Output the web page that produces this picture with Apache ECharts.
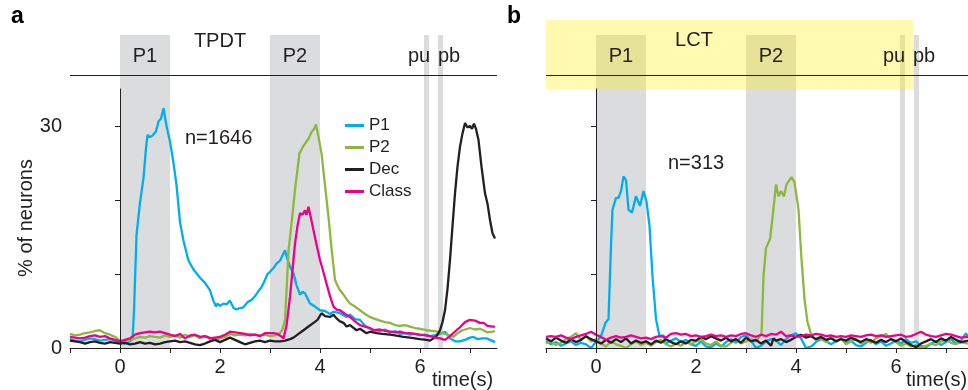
<!DOCTYPE html>
<html>
<head>
<meta charset="utf-8">
<script src="https://cdn.jsdelivr.net/npm/echarts@6/dist/echarts.min.js"></script>
<style>html,body{margin:0;padding:0;background:#fff}#chart{width:968px;height:390px}</style>
</head>
<body>
<div id="chart"></div>
<script>
// panel a (TPDT), [time s, % of neurons]
const tpdtP1 = [[-1,1.2],[-0.9,1.0],[-0.8,0.9],[-0.7,1.1],[-0.6,1.3],[-0.5,1.2],[-0.4,1.0],[-0.3,1.1],[-0.2,1.2],[-0.1,1.0],[0,0.8],[0.1,0.6],[0.2,0.9],[0.25,1.2],[0.28,5],[0.33,15.3],[0.4,19.6],[0.47,23],[0.52,27],[0.55,28.8],[0.6,28.5],[0.65,28.7],[0.72,29.3],[0.77,30.6],[0.82,31],[0.87,32.4],[0.93,30],[1.0,27.9],[1.07,25],[1.13,22],[1.2,17],[1.27,14.5],[1.37,11.8],[1.47,10.6],[1.6,9.5],[1.7,8.8],[1.8,7.8],[1.86,6.5],[1.92,5.6],[1.95,6.0],[2.0,5.7],[2.07,6.0],[2.13,5.9],[2.2,6.4],[2.27,5.4],[2.33,5.2],[2.4,5.4],[2.47,5.5],[2.55,6.2],[2.63,6.5],[2.7,7.0],[2.77,7.7],[2.83,8.2],[2.9,9.2],[2.95,10],[3.0,10.3],[3.07,10.8],[3.13,11.4],[3.2,11.8],[3.3,13.2],[3.35,12.0],[3.4,11.0],[3.47,10.1],[3.53,8.5],[3.6,7.2],[3.65,7.6],[3.7,7.4],[3.8,6.0],[3.9,5.6],[4.0,5.1],[4.1,5.0],[4.2,4.6],[4.27,4.9],[4.4,4.7],[4.53,4.2],[4.6,4.5],[4.7,3.9],[4.8,3.8],[4.9,3.0],[5.0,2.6],[5.1,2.4],[5.2,2.3],[5.3,2.5],[5.4,2.1],[5.5,2.3],[5.6,1.9],[5.7,2.0],[5.8,1.8],[5.9,1.9],[6.0,1.7],[6.1,1.8],[6.2,1.6],[6.3,1.75],[6.4,1.9],[6.5,2.2],[6.55,1.8],[6.6,1.3],[6.7,0.9],[6.8,0.9],[6.9,1.1],[7.0,1.4],[7.07,1.5],[7.15,1.2],[7.25,1.3],[7.33,1.3],[7.4,1.1],[7.5,0.8]];
const tpdtP2 = [[-1,1.9],[-0.9,1.7],[-0.8,1.8],[-0.7,2.0],[-0.6,2.1],[-0.5,2.3],[-0.4,2.4],[-0.3,2.0],[-0.2,1.8],[-0.1,1.5],[0,1.0],[0.1,0.8],[0.2,1.1],[0.3,1.3],[0.4,1.5],[0.5,1.4],[0.6,1.6],[0.7,1.5],[0.8,1.4],[0.9,1.7],[1.0,1.5],[1.1,1.7],[1.2,1.4],[1.3,1.8],[1.4,1.5],[1.5,1.7],[1.6,1.3],[1.7,1.6],[1.8,1.4],[1.9,1.1],[2.0,1.3],[2.1,1.5],[2.2,1.9],[2.3,1.7],[2.4,1.8],[2.5,1.7],[2.6,1.9],[2.7,1.8],[2.8,1.7],[2.9,1.8],[3.0,1.6],[3.1,1.7],[3.2,2.0],[3.25,2.5],[3.3,3.8],[3.34,9],[3.37,13.2],[3.41,15.5],[3.5,21.4],[3.59,26.3],[3.66,27.2],[3.73,27.9],[3.78,28.4],[3.83,29.2],[3.88,29.6],[3.92,30.2],[3.97,28.5],[4.03,26.3],[4.1,22],[4.17,17.7],[4.23,13.5],[4.3,9.2],[4.38,8],[4.47,7.2],[4.53,6.6],[4.6,6.0],[4.7,5.6],[4.8,5.1],[4.9,4.6],[5.0,4.2],[5.07,4.0],[5.2,3.7],[5.3,3.5],[5.4,3.4],[5.5,3.1],[5.6,3.0],[5.7,3.1],[5.8,2.9],[5.9,2.7],[6.0,2.6],[6.13,2.4],[6.25,2.3],[6.35,2.2],[6.45,2.0],[6.55,1.8],[6.67,1.5],[6.75,2.0],[6.85,2.4],[6.95,2.6],[7.0,2.7],[7.1,2.5],[7.2,2.6],[7.27,2.4],[7.35,2.1],[7.45,2.2],[7.5,2.3]];
const tpdtDec = [[-1,1.0],[-0.9,0.9],[-0.8,0.8],[-0.7,0.6],[-0.6,0.8],[-0.5,0.9],[-0.4,0.7],[-0.3,0.6],[-0.2,0.8],[-0.1,0.7],[0,0.6],[0.1,0.7],[0.2,0.5],[0.3,0.6],[0.4,0.8],[0.5,0.6],[0.6,0.7],[0.7,0.5],[0.8,0.6],[0.9,0.8],[1.0,0.9],[1.1,1.0],[1.2,0.8],[1.3,0.9],[1.4,0.7],[1.5,0.5],[1.6,0.4],[1.7,0.6],[1.8,0.9],[1.9,1.1],[2.0,0.8],[2.1,1.1],[2.2,1.4],[2.3,1.1],[2.4,0.8],[2.5,0.5],[2.6,0.7],[2.7,0.9],[2.8,1.0],[2.9,0.8],[3.0,1.0],[3.1,0.9],[3.2,0.9],[3.3,1.0],[3.4,1.2],[3.47,1.4],[3.55,1.8],[3.67,2.4],[3.75,2.8],[3.87,3.4],[3.95,3.8],[4.03,4.7],[4.1,4.3],[4.2,4.2],[4.27,4.5],[4.33,4.0],[4.4,3.6],[4.47,3.4],[4.53,2.9],[4.6,3.1],[4.73,2.4],[4.8,2.6],[4.93,2.0],[5.0,2.2],[5.13,2.0],[5.25,1.9],[5.4,1.8],[5.5,1.7],[5.67,1.5],[5.8,1.4],[5.9,1.3],[6.0,1.2],[6.13,1.1],[6.2,1.0],[6.27,1.3],[6.33,1.6],[6.4,2.4],[6.45,3.5],[6.5,5.1],[6.55,8],[6.6,11.9],[6.65,16.5],[6.7,20.9],[6.75,24.5],[6.8,27.2],[6.85,29],[6.9,30.4],[6.95,29.8],[7.0,30.0],[7.04,29.6],[7.08,30.3],[7.12,29.6],[7.17,28.1],[7.23,24.5],[7.3,20.9],[7.35,19.5],[7.4,17.3],[7.45,15.5],[7.5,14.8]];
const tpdtClass = [[-1,1.5],[-0.9,1.4],[-0.8,1.3],[-0.7,1.4],[-0.6,1.6],[-0.5,1.7],[-0.4,1.5],[-0.3,1.6],[-0.2,1.3],[-0.1,1.1],[0,0.9],[0.1,1.1],[0.2,1.3],[0.3,1.8],[0.4,2.0],[0.5,2.1],[0.6,2.2],[0.7,2.1],[0.8,2.2],[0.9,2.0],[1.0,1.8],[1.1,1.6],[1.2,1.9],[1.3,1.3],[1.4,1.7],[1.5,1.8],[1.6,1.5],[1.7,1.6],[1.8,1.3],[1.9,1.4],[2.0,1.5],[2.1,1.8],[2.2,2.2],[2.3,2.1],[2.4,2.0],[2.5,1.9],[2.6,1.7],[2.7,1.8],[2.8,1.6],[2.9,2.0],[3.0,2.0],[3.07,2.0],[3.15,1.9],[3.22,1.6],[3.27,1.3],[3.33,3],[3.4,6.9],[3.45,10.5],[3.5,14.1],[3.55,16.5],[3.6,18.2],[3.65,18.0],[3.7,18.6],[3.73,18.0],[3.77,19.1],[3.82,17.5],[3.87,15.9],[3.93,14],[4.0,11.9],[4.07,10.2],[4.13,8.7],[4.2,7.0],[4.27,5.6],[4.33,5.2],[4.4,5.1],[4.5,4.6],[4.6,4.2],[4.7,3.6],[4.8,3.1],[4.9,2.9],[5.0,2.7],[5.07,2.4],[5.2,2.5],[5.3,2.3],[5.4,2.2],[5.5,2.1],[5.6,2.2],[5.7,2.0],[5.8,2.0],[5.9,1.9],[6.0,1.8],[6.1,1.7],[6.2,1.6],[6.3,1.4],[6.4,1.3],[6.5,1.1],[6.6,1.6],[6.73,2.4],[6.8,2.8],[6.9,3.5],[7.0,3.8],[7.1,3.7],[7.2,3.4],[7.27,3.4],[7.35,3.0],[7.45,2.9],[7.5,2.9]];

// panel b (LCT)
const lctP1 = [[-1,1.0],[-0.9,0.5],[-0.8,0.8],[-0.7,0.3],[-0.6,0.6],[-0.5,0.9],[-0.4,0.4],[-0.3,0.7],[-0.2,0.5],[-0.1,0.0],[0,0.8],[0.1,1.6],[0.19,3.4],[0.25,3.9],[0.3,13.8],[0.33,18.7],[0.4,20.3],[0.45,20.3],[0.5,21.2],[0.55,23.2],[0.6,22.7],[0.65,18.7],[0.72,18.3],[0.8,20.5],[0.88,19.2],[0.95,21.2],[1.01,19.8],[1.07,16.5],[1.13,9.7],[1.2,3.9],[1.27,1.6],[1.35,1.7],[1.4,0.6],[1.5,1.0],[1.6,1.3],[1.7,0.8],[1.8,1.1],[1.9,0.5],[2.0,0.3],[2.1,0.9],[2.2,0.2],[2.3,0.1],[2.4,0.6],[2.5,0.2],[2.6,0.8],[2.7,1.2],[2.8,0.7],[2.9,1.5],[3.0,1.7],[3.1,1.0],[3.2,0.0],[3.3,0.3],[3.4,0.9],[3.5,1.2],[3.6,1.0],[3.7,0.4],[3.8,1.2],[3.9,1.7],[4.0,2.0],[4.1,1.3],[4.2,0.0],[4.3,0.2],[4.4,0.8],[4.5,1.2],[4.6,0.9],[4.7,0.5],[4.8,0.9],[4.9,1.3],[5.0,0.8],[5.1,1.0],[5.2,0.4],[5.3,0.2],[5.4,0.7],[5.5,1.1],[5.6,0.5],[5.7,0.9],[5.8,0.3],[5.9,0.6],[6.0,1.0],[6.1,0.6],[6.2,1.2],[6.3,0.7],[6.4,0.9],[6.5,0.3],[6.6,0.1],[6.7,0.6],[6.8,0.9],[6.9,0.4],[7.0,0.8],[7.1,1.2],[7.2,0.6],[7.3,1.0],[7.4,2.0],[7.44,1.5]];
const lctP2 = [[-1,0.6],[-0.9,0.9],[-0.8,0.4],[-0.7,0.7],[-0.6,1.2],[-0.5,1.5],[-0.4,2.0],[-0.3,1.1],[-0.2,1.6],[-0.1,0.9],[0,1.2],[0.1,0.6],[0.2,0.2],[0.3,0.9],[0.4,0.5],[0.5,0.3],[0.6,0.0],[0.7,0.5],[0.8,0.9],[0.9,0.4],[1.0,0.7],[1.1,0.3],[1.2,0.8],[1.3,1.1],[1.4,0.5],[1.5,0.2],[1.6,0.6],[1.7,0.3],[1.8,0.8],[1.9,0.5],[2.0,0.9],[2.1,1.2],[2.2,0.6],[2.3,0.4],[2.4,0.9],[2.5,0.3],[2.6,0.2],[2.7,0.7],[2.8,1.1],[2.9,0.6],[3.0,0.9],[3.1,1.2],[3.2,0.9],[3.25,1.3],[3.31,1.9],[3.35,9.7],[3.4,13.5],[3.48,14.7],[3.53,17.6],[3.6,22.1],[3.65,20.5],[3.7,21.2],[3.76,20.5],[3.81,22.1],[3.91,23.1],[3.97,22.4],[4.05,18.7],[4.11,12.0],[4.17,6.6],[4.23,3.5],[4.3,1.9],[4.33,2.1],[4.4,1.0],[4.5,1.4],[4.6,0.8],[4.7,1.6],[4.8,0.9],[4.9,1.3],[5.0,0.5],[5.1,0.9],[5.2,1.2],[5.3,0.6],[5.4,1.0],[5.5,0.7],[5.6,1.3],[5.7,1.6],[5.8,1.9],[5.9,1.2],[6.0,0.8],[6.1,0.3],[6.2,0.6],[6.3,0.2],[6.4,0.4],[6.5,0.0],[6.6,0.3],[6.7,0.6],[6.8,0.4],[6.9,0.9],[7.0,1.1],[7.1,0.7],[7.2,0.5],[7.3,0.8],[7.44,0.6]];
const lctDec = [[-1,1.3],[-0.9,0.9],[-0.8,1.4],[-0.7,1.0],[-0.6,0.7],[-0.5,1.2],[-0.4,0.8],[-0.3,1.1],[-0.2,1.6],[-0.1,1.2],[0,0.9],[0.1,0.6],[0.2,1.1],[0.3,0.7],[0.4,1.2],[0.5,0.8],[0.6,1.3],[0.7,0.6],[0.8,1.0],[0.9,0.7],[1.0,0.9],[1.1,0.5],[1.2,1.0],[1.3,0.7],[1.4,1.2],[1.5,0.8],[1.6,0.5],[1.7,0.9],[1.8,0.6],[1.9,1.1],[2.0,1.0],[2.1,1.5],[2.2,1.2],[2.3,1.6],[2.4,1.3],[2.5,1.0],[2.6,1.4],[2.7,0.9],[2.8,1.2],[2.9,0.7],[3.0,1.4],[3.1,0.9],[3.2,1.1],[3.3,0.6],[3.4,1.0],[3.5,0.3],[3.55,1.3],[3.6,1.0],[3.7,1.2],[3.8,0.8],[3.9,1.1],[4.0,1.5],[4.1,1.8],[4.2,1.4],[4.3,1.6],[4.4,1.2],[4.5,1.5],[4.6,1.1],[4.7,1.3],[4.8,0.9],[4.9,1.2],[5.0,1.0],[5.1,1.4],[5.2,1.1],[5.3,0.8],[5.4,1.2],[5.5,1.0],[5.6,0.7],[5.7,1.1],[5.8,0.8],[5.9,1.2],[6.0,0.9],[6.1,1.3],[6.2,0.8],[6.3,0.4],[6.4,0.1],[6.5,0.6],[6.6,0.9],[6.7,1.2],[6.8,0.8],[6.9,1.3],[7.0,1.0],[7.1,1.5],[7.2,1.1],[7.3,0.8],[7.44,1.0]];
const lctClass = [[-1,1.5],[-0.9,1.6],[-0.8,1.5],[-0.7,1.7],[-0.6,1.4],[-0.5,1.2],[-0.4,1.5],[-0.3,1.7],[-0.2,1.9],[-0.1,2.2],[0,1.8],[0.1,1.5],[0.2,1.1],[0.3,1.4],[0.4,1.6],[0.5,1.4],[0.6,1.5],[0.7,1.7],[0.8,1.5],[0.9,1.3],[1.0,1.4],[1.1,1.2],[1.2,1.5],[1.3,1.6],[1.4,1.4],[1.5,1.9],[1.6,2.0],[1.7,1.8],[1.8,1.9],[1.9,1.6],[2.0,1.7],[2.1,1.5],[2.2,1.6],[2.3,1.8],[2.4,1.6],[2.5,1.7],[2.6,1.5],[2.7,1.7],[2.8,1.6],[2.9,1.9],[3.0,2.0],[3.1,1.7],[3.2,1.5],[3.3,1.8],[3.4,1.6],[3.5,1.9],[3.6,1.8],[3.7,2.2],[3.8,1.6],[3.9,1.7],[4.0,1.5],[4.1,1.6],[4.2,1.8],[4.3,1.7],[4.4,1.9],[4.5,1.8],[4.6,1.6],[4.7,1.7],[4.8,1.5],[4.9,1.6],[5.0,1.5],[5.1,1.7],[5.2,1.6],[5.3,1.5],[5.4,1.7],[5.5,1.8],[5.6,1.6],[5.7,1.7],[5.8,1.5],[5.9,1.6],[6.0,1.7],[6.1,1.8],[6.2,1.5],[6.3,1.6],[6.4,1.9],[6.5,2.2],[6.6,1.8],[6.7,1.6],[6.8,1.5],[6.9,1.7],[7.0,1.9],[7.1,1.8],[7.2,1.6],[7.3,1.4],[7.44,1.5]];

// task epochs (s): P1, P2, pu, pb
const epochs = [[0, 1], [3, 4], [6.08, 6.18], [6.36, 6.46]];
const lctBoxEnd = 6.36;
const seriesNames = ['P1', 'P2', 'Dec', 'Class'];

const FONT = '"Liberation Sans", Arial, sans-serif';
const INK = '#231F20';
const COLORS = { P1: '#00AEEF', P2: '#8DB73F', Dec: '#231F20', Class: '#EC008C' };
const GRAY = '#DBDCDD';

// layout (px)
const TOP_FULL = 20, TOP_AXIS = 89, TOP_TICK = 126, BOTTOM = 348;
const PER = (BOTTOM - TOP_TICK) / 30;          // px per % unit
const yFullMax = (BOTTOM - TOP_FULL) / PER;
const yBarTop = (BOTTOM - 35) / PER;
const yHeaderLine = (BOTTOM - 75) / PER;
const yAxisMax = (BOTTOM - TOP_AXIS) / PER;

const panels = [
  { left: 70, width: 427, data: [tpdtP1, tpdtP2, tpdtDec, tpdtClass], yLabels: true, box: false },
  { left: 546, width: 422, data: [lctP1, lctP2, lctDec, lctClass], yLabels: false, box: true }
];

const grid = [], xAxis = [], yAxis = [], series = [];
const hidden = { show: false };

panels.forEach((p, k) => {
  const b = k * 3;
  const xMax = -1 + p.width / 50;
  grid.push(
    { left: p.left, width: p.width, top: TOP_FULL, height: BOTTOM - TOP_FULL },
    { left: p.left, width: p.width, top: TOP_AXIS, height: BOTTOM - TOP_AXIS },
    { left: p.left, width: 400, top: TOP_TICK, height: BOTTOM - TOP_TICK }
  );
  xAxis.push(
    { gridIndex: b, type: 'value', min: -1, max: xMax, axisLine: hidden, axisTick: hidden, axisLabel: hidden, splitLine: hidden },
    { gridIndex: b + 1, type: 'value', min: -1, max: xMax, z: 10, axisLine: { lineStyle: { color: INK, width: 1 } }, axisTick: hidden, axisLabel: hidden, splitLine: hidden },
    { gridIndex: b + 2, type: 'value', min: -1, max: 7, interval: 1, axisLine: hidden, splitLine: hidden,
      axisTick: { show: true, length: 5, lineStyle: { color: INK } },
      axisLabel: { margin: 9, fontSize: 20, fontFamily: FONT, color: INK, formatter: v => (v >= 0 && v % 2 === 0) ? String(v) : '' } }
  );
  yAxis.push(
    { gridIndex: b, type: 'value', min: 0, max: yFullMax, axisLine: hidden, axisTick: hidden, axisLabel: hidden, splitLine: hidden },
    { gridIndex: b + 1, type: 'value', min: 0, max: yAxisMax, z: 10, axisLine: { show: true, lineStyle: { color: INK, width: 1 } }, axisTick: hidden, axisLabel: hidden, splitLine: hidden },
    { gridIndex: b + 2, type: 'value', min: 0, max: 30, interval: 10, axisLine: hidden, splitLine: hidden,
      axisTick: { show: true, length: 5, lineStyle: { color: INK } },
      axisLabel: { show: p.yLabels, margin: 8, fontSize: 20, fontFamily: FONT, color: INK, formatter: v => (v === 0 || v === 30) ? String(v) : '' } }
  );

  series.push({
    type: 'line', xAxisIndex: b, yAxisIndex: b, data: [], silent: true, z: 1,
    markArea: { silent: true, itemStyle: { color: GRAY }, data: epochs.map(e => [{ xAxis: e[0], yAxis: 0 }, { xAxis: e[1], yAxis: yBarTop }]) }
  });
  if (p.box) {
    series.push({
      type: 'line', xAxisIndex: b, yAxisIndex: b, data: [], silent: true, z: 2,
      markArea: { silent: true, itemStyle: { color: 'rgba(255,240,0,0.31)' }, data: [[{ xAxis: -1, yAxis: yAxisMax }, { xAxis: lctBoxEnd, yAxis: yFullMax }]] }
    });
  }
  series.push({
    type: 'line', xAxisIndex: b, yAxisIndex: b, data: [], silent: true, z: 3,
    markLine: { silent: true, symbol: 'none', label: hidden, lineStyle: { color: INK, width: 1, type: 'solid' }, data: [{ yAxis: yHeaderLine }] }
  });
  seriesNames.forEach((name, i) => {
    series.push({
      type: 'line', name, xAxisIndex: b + 1, yAxisIndex: b + 1, data: p.data[i],
      showSymbol: false, symbol: 'none', z: 5, silent: true,
      itemStyle: { color: COLORS[name] },
      lineStyle: { color: COLORS[name], width: 2.3 }
    });
  });
});

const txt = (text, x, y, size, align, opts) => {
  const o = opts || {};
  return {
    type: 'text', x, y, z: 100, silent: true, rotation: o.rotation || 0,
    style: { text, fill: o.fill || INK, font: (o.bold ? 'bold ' : '') + size + 'px ' + FONT, textAlign: align, textVerticalAlign: 'middle' }
  };
};

const graphic = [
  txt('a', 11, 17, 23, 'left', { bold: true, fill: '#000' }),
  txt('b', 507, 17, 23, 'left', { bold: true, fill: '#000' }),
  txt('TPDT', 220, 41, 20, 'center'),
  txt('P1', 145, 56, 20, 'center'),
  txt('P2', 295, 56, 20, 'center'),
  txt('pu', 419, 56, 20, 'center'),
  txt('pb', 449, 56, 20, 'center'),
  txt('LCT', 694, 40, 20, 'center'),
  txt('P1', 621, 56, 20, 'center'),
  txt('P2', 771, 56, 20, 'center'),
  txt('pu', 894, 56, 20, 'center'),
  txt('pb', 924, 56, 20, 'center'),
  txt('n=1646', 185, 138, 20, 'left'),
  txt('n=313', 668, 163, 20, 'left'),
  txt('time(s)', 432, 380, 20, 'left'),
  txt('time(s)', 906, 380, 20, 'left'),
  txt('% of neurons', 26, 218, 20, 'center', { rotation: Math.PI / 2 })
];

const chart = echarts.init(document.getElementById('chart'), null, { renderer: 'canvas' });
chart.setOption({
  animation: false,
  grid, xAxis, yAxis, series, graphic,
  legend: {
    data: seriesNames, orient: 'vertical', left: 340, top: 112,
    icon: 'rect', itemWidth: 19, itemHeight: 3, itemGap: 5, selectedMode: false,
    textStyle: { fontSize: 17, fontFamily: FONT, color: INK, lineHeight: 17 }
  }
});
</script>
</body>
</html>
